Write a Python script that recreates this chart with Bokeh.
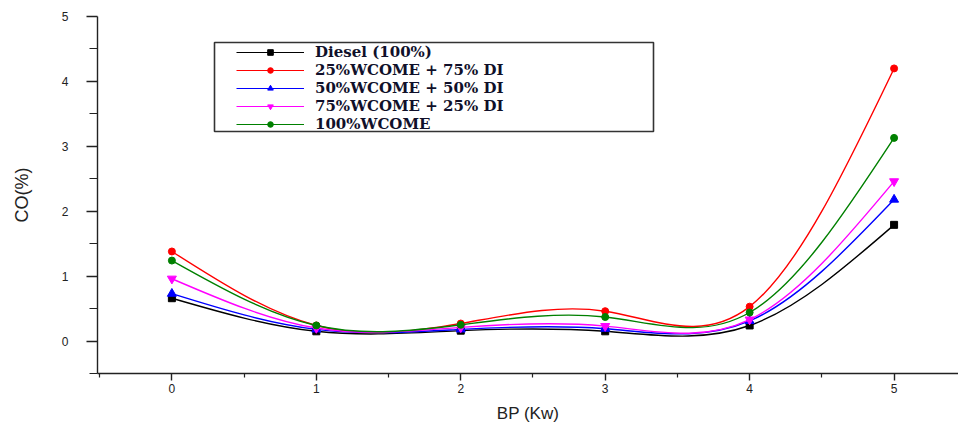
import numpy as np
from bokeh.plotting import figure
from bokeh.models import Range1d, FixedTicker, Legend, LegendItem, BoxAnnotation
from bokeh.embed import file_html
from bokeh.resources import INLINE

# ---- data ----
bp = [0, 1, 2, 3, 4, 5]
diesel = [0.66, 0.15, 0.16, 0.15, 0.24, 1.79]
wcome25 = [1.38, 0.24, 0.27, 0.46, 0.53, 4.20]
wcome50 = [0.73, 0.18, 0.18, 0.19, 0.31, 2.18]
wcome75 = [0.96, 0.20, 0.21, 0.23, 0.33, 2.46]
wcome100 = [1.24, 0.24, 0.25, 0.37, 0.44, 3.13]

labels = ["Diesel (100%)", "25%WCOME + 75% DI", "50%WCOME + 50% DI",
          "75%WCOME + 25% DI", "100%WCOME"]
y_ticks = [0, 1, 2, 3, 4, 5]
x_ticks = [0, 1, 2, 3, 4, 5]

series = [
    (labels[0], diesel, "#000000", "square", 7),
    (labels[1], wcome25, "#ff0000", "circle", 7),
    (labels[2], wcome50, "#0000ff", "triangle", 9),
    (labels[3], wcome75, "#ff00ff", "inverted_triangle", 9),
    (labels[4], wcome100, "#008000", "circle", 7),
]


def spline_beziers(xs, ys):
    """Natural cubic spline through the points, returned as bezier segments."""
    x = np.asarray(xs, float)
    y = np.asarray(ys, float)
    n = len(x)
    h = np.diff(x)
    A = np.zeros((n, n))
    b = np.zeros(n)
    A[0, 0] = 1
    A[-1, -1] = 1
    for i in range(1, n - 1):
        A[i, i - 1] = h[i - 1]
        A[i, i] = 2 * (h[i - 1] + h[i])
        A[i, i + 1] = h[i]
        b[i] = 6 * ((y[i + 1] - y[i]) / h[i] - (y[i] - y[i - 1]) / h[i - 1])
    M = np.linalg.solve(A, b)
    d = np.zeros(n)
    for i in range(n - 1):
        d[i] = (y[i + 1] - y[i]) / h[i] - h[i] * (2 * M[i] + M[i + 1]) / 6
    d[-1] = (y[-1] - y[-2]) / h[-1] + h[-1] * (M[-2] + 2 * M[-1]) / 6
    return dict(
        x0=x[:-1], y0=y[:-1], x1=x[1:], y1=y[1:],
        cx0=x[:-1] + h / 3, cy0=y[:-1] + d[:-1] * h / 3,
        cx1=x[1:] - h / 3, cy1=y[1:] - d[1:] * h / 3,
    )


p = figure(width=958, height=425, output_backend="svg", toolbar_location=None,
           x_range=Range1d(-0.515, 5.446), y_range=Range1d(-0.5, 5.0),
           min_border_left=97, min_border_right=0, min_border_top=16,
           min_border_bottom=52, background_fill_color="white",
           border_fill_color="white")
p.outline_line_color = None
p.xgrid.visible = False
p.ygrid.visible = False

# legend frame (drawn under the legend items)
box = BoxAnnotation(left=117, right=556, bottom=242, top=331,
                    left_units="screen", right_units="screen",
                    bottom_units="screen", top_units="screen",
                    fill_color="white", fill_alpha=1.0,
                    line_color="#333333", line_width=1.6, line_alpha=1.0)
p.add_layout(box)

items = []
for name, vals, color, marker, size in series:
    seg = spline_beziers(bp, vals)
    p.bezier(x0=seg["x0"], y0=seg["y0"], x1=seg["x1"], y1=seg["y1"],
             cx0=seg["cx0"], cy0=seg["cy0"], cx1=seg["cx1"], cy1=seg["cy1"],
             line_color=color, line_width=1.4)
    ln = p.line(x=[np.nan], y=[np.nan], line_color=color, line_width=1.2)
    sc = p.scatter(bp, vals, marker=marker, size=size, fill_color=color,
                   line_color=color)
    items.append(LegendItem(label=name, renderers=[ln, sc]))

legend = Legend(items=items, location=(139, 240), orientation="vertical",
                padding=2, spacing=-3, margin=0,
                glyph_width=68, glyph_height=14, label_height=14,
                label_standoff=11,
                label_text_font="DejaVu Serif", label_text_font_style="bold",
                label_text_font_size="15px", label_text_color="#10102a",
                border_line_color=None, background_fill_alpha=0.0)
p.add_layout(legend)

# axes
for ax in (p.xaxis[0], p.yaxis[0]):
    ax.axis_line_color = "#222222"
    ax.axis_line_width = 1.4
    ax.major_tick_line_color = "#222222"
    ax.minor_tick_line_color = "#222222"
    ax.major_tick_line_width = 1.4
    ax.minor_tick_line_width = 1.2
    ax.major_tick_in = 0
    ax.minor_tick_in = 0
    ax.major_label_text_font = "Liberation Sans"
    ax.major_label_text_font_size = "12px"
    ax.major_label_text_color = "#222222"
    ax.axis_label_text_font = "Liberation Sans"
    ax.axis_label_text_font_style = "normal"
    ax.axis_label_text_color = "#222222"

p.xaxis.ticker = FixedTicker(ticks=x_ticks, minor_ticks=[-0.5, 0.5, 1.5, 2.5, 3.5, 4.5, 5.5])
p.yaxis.ticker = FixedTicker(ticks=y_ticks, minor_ticks=[-0.5, 0.5, 1.5, 2.5, 3.5, 4.5])

p.xaxis.major_tick_out = 7
p.xaxis.minor_tick_out = 4
p.xaxis.major_label_standoff = 3
p.xaxis.axis_label = "BP (Kw)"
p.xaxis.axis_label_text_font_size = "17px"
p.xaxis.axis_label_standoff = 8

p.yaxis.major_tick_out = 11
p.yaxis.minor_tick_out = 8
p.yaxis.major_label_standoff = 18
p.yaxis.axis_label = "CO(%)"
p.yaxis.axis_label_text_font_size = "18px"
p.yaxis.axis_label_standoff = 27

open("out.html", "w").write(file_html(p, INLINE))
